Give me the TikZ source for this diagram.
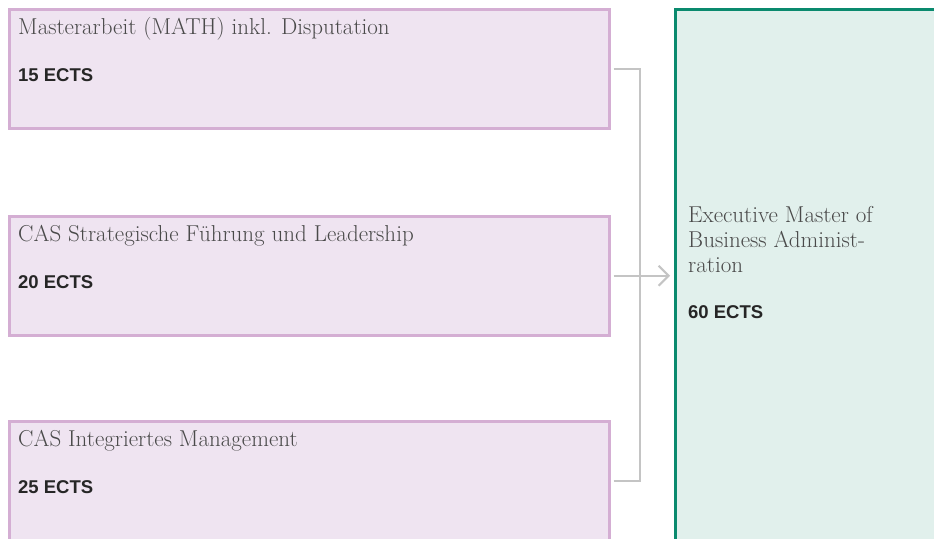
\documentclass[tikz,border=0pt]{standalone}
\usepackage{fontspec}
\newfontfamily\ectsfont{Liberation Sans}
\usepackage{tikz}
\usetikzlibrary{arrows,arrows.meta,shapes,positioning}
\definecolor{modfill}{HTML}{EFE4F1}
\definecolor{moddraw}{HTML}{D4AED3}
\definecolor{embafill}{HTML}{E1F0EC}
\definecolor{embadraw}{HTML}{0A8A6E}
\definecolor{linegray}{HTML}{C4C4C4}
\definecolor{textgray}{HTML}{4A4A4A}
\tikzstyle{module}=[rectangle,draw=moddraw,fill=modfill,line width=2.5pt,minimum width=600pt,minimum height=119pt,inner sep=0pt,anchor=north west]
\tikzstyle{degree}=[module,draw=embadraw,fill=embafill,line width=3pt,minimum width=300pt,minimum height=600pt]
\tikzstyle{title}=[anchor=base west,inner sep=0pt,text=textgray,align=left,font=\fontsize{23}{25}\selectfont]
\tikzstyle{ects}=[anchor=base west,inner sep=0pt,text=black!85,font=\ectsfont\bfseries\fontsize{18.5}{20}\selectfont]
\tikzstyle{edge}=[draw=linegray,line width=2pt,-]

\begin{document}
\begin{tikzpicture}[x=1pt,y=-1pt]
    \useasboundingbox (0,0) rectangle (934,538);
    % First we draw the modules and the degree
    \foreach \pos/\name/\text/\points in {{(8,8)/mathbox/Masterarbeit (MATH) inkl. Disputation/15}, {(8,215)/casfuehrung/CAS Strategische Führung und Leadership/20}, {(8,420)/casmgmt/CAS Integriertes Management/25}}
    {
        \node[module] (\name) at \pos {};
        \node[title] (\name-title) at ([xshift=10pt,yshift=-26pt]\name.north west) {\text};
        \node[ects] (\name-ects) at ([yshift=-47pt]\name-title.base west) {\points\ ECTS};
    }
    \node[degree] (emba) at (674,8) {};
    \node[title,anchor=north west] (emba-title) at ([xshift=14pt,yshift=-198pt]emba.north west) {Executive Master of\\Business Administ-\\ration};
    \node[ects] (emba-ects) at ([xshift=14pt,yshift=-310pt]emba.north west) {60 ECTS};

    % Connect modules with the degree
    \coordinate (join) at (640,274);
    \path[edge] ([xshift=3pt]mathbox.east) -| (join);
    \path[edge] ([xshift=3pt]casmgmt.east) -| (join);
    \path[edge,-{Straight Barb[length=10pt,width=20pt]}] ([xshift=3pt]casfuehrung.east) -- ([xshift=-4pt]emba.west |- casfuehrung.east);
\end{tikzpicture}
\end{document}
